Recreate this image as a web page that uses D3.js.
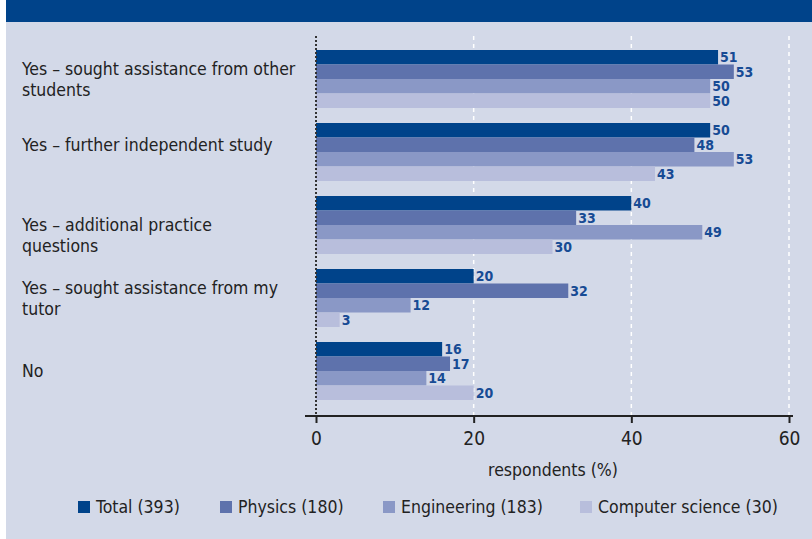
<!DOCTYPE html>
<html><head><meta charset="utf-8">
<script src="https://cdn.jsdelivr.net/npm/d3@7"></script>
<style>
html,body{margin:0;padding:0;background:#fff;}
svg{display:block;}
text{font-family:'Liberation Sans Narrow','DejaVu Sans Condensed','Arial Narrow',sans-serif;}
</style></head>
<body><svg id="c" width="812" height="539"></svg>
<script>
const categories = [
  ["Yes \u2013 sought assistance from other", "students"],
  ["Yes \u2013 further independent study"],
  ["Yes \u2013 additional practice", "questions"],
  ["Yes \u2013 sought assistance from my", "tutor"],
  ["No"]
];
const seriesNames = ["Total (393)", "Physics (180)", "Engineering (183)", "Computer science (30)"];
const total = [51, 50, 40, 20, 16];
const physics = [53, 48, 33, 32, 17];
const engineering = [50, 53, 49, 12, 14];
const compsci = [50, 43, 30, 3, 20];
const xTicks = [0, 20, 40, 60];
const colors = ["#00438a", "#5e72ac", "#8a98c6", "#b8bedc"];

const series = [total, physics, engineering, compsci];
const svg = d3.select("#c");
svg.append("rect").attr("x",6).attr("y",0).attr("width",806).attr("height",539).attr("fill","#d3d9e8");
svg.append("rect").attr("x",6).attr("y",0).attr("width",806).attr("height",22).attr("fill","#00438a");

const x = d3.scaleLinear().domain([0,60]).range([316,789]);
const y0b = d3.scaleBand().domain(d3.range(categories.length)).range([50, 50+73*5-15]).paddingInner(15/73);
const y1 = d3.scaleBand().domain(d3.range(4)).range([0, y0b.bandwidth()]);
const labelShift = [0, -7, 10, 0, 0];

const axisY = 416;
svg.append("g").selectAll("line").data(xTicks.filter(d=>d>0)).join("line")
  .attr("x1",d=>x(d)).attr("x2",d=>x(d)).attr("y1",36).attr("y2",axisY)
  .attr("stroke","#ffffff").attr("stroke-width",1.5).attr("stroke-dasharray","4,4");

const g = svg.append("g");
categories.forEach((c,i)=>{
  series.forEach((s,j)=>{
    const yy = y0b(i)+y1(j);
    g.append("rect").attr("x",x(0)).attr("y",yy).attr("width",x(s[i])-x(0)).attr("height",y1.bandwidth())
      .attr("fill",colors[j]);
    g.append("text").attr("x",x(s[i])+2).attr("y",yy+y1.bandwidth()/2).attr("dy","0.36em")
      .attr("font-size",14).attr("font-weight","bold").attr("fill","#174b94").text(s[i]);
  });
  const cy = y0b(i)+y0b.bandwidth()/2 + labelShift[i];
  const lh = 21;
  c.forEach((t,k)=>{
    svg.append("text").attr("x",22).attr("y",cy+(k-(c.length-1)/2)*lh).attr("dy","0.35em")
      .attr("font-size",17.5).attr("fill","#222").text(t);
  });
});

svg.append("line").attr("x1",x(0)).attr("x2",x(0)).attr("y1",36).attr("y2",axisY)
  .attr("stroke","#333").attr("stroke-width",2).attr("stroke-dasharray","2,2");

const ax = svg.append("g").attr("transform",`translate(0,${axisY})`)
  .call(d3.axisBottom(x).tickValues(xTicks).tickSize(7).tickPadding(9));
ax.select(".domain").remove();
ax.selectAll(".tick line").attr("stroke","#222").attr("stroke-width",2);
ax.selectAll(".tick text").attr("font-size",19).attr("fill","#222")
  .style("font-family","'Liberation Sans Narrow','DejaVu Sans Condensed',sans-serif");
svg.append("line").attr("x1",305).attr("x2",793).attr("y1",axisY).attr("y2",axisY).attr("stroke","#222").attr("stroke-width",2);

svg.append("text").attr("x",553).attr("y",470).attr("dy","0.35em").attr("text-anchor","middle")
  .attr("font-size",17.5).attr("fill","#222").text("respondents (%)");

const legX = [78, 220, 383, 580];
seriesNames.forEach((n,j)=>{
  svg.append("rect").attr("x",legX[j]).attr("y",501).attr("width",12).attr("height",12).attr("fill",colors[j]);
  svg.append("text").attr("x",legX[j]+18).attr("y",507).attr("dy","0.35em").attr("font-size",17.5).attr("fill","#222").text(n);
});
</script></body></html>
